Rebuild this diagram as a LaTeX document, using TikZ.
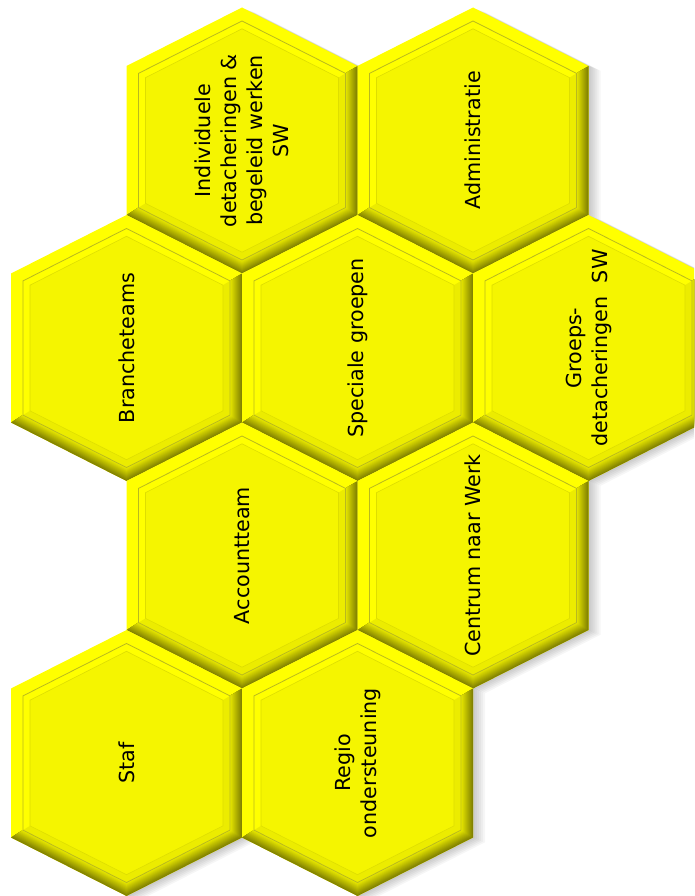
\documentclass[tikz,border=0pt]{standalone}
\usepackage{fontspec}
\setmainfont{DejaVu Sans}
\definecolor{ybright}{RGB}{255,255,0}
\definecolor{yface}{RGB}{245,245,0}
\definecolor{yinner}{RGB}{236,236,0}
\definecolor{yline}{RGB}{185,185,30}
\definecolor{yline2}{RGB}{222,222,0}
% hexagon inset by #1 (relative to centre)
\newcommand\hexpath[1]{(0,{133-1.121*(#1)}) -- ({115.5-(#1)},{74.5-0.6145*(#1)}) -- ({115.5-(#1)},{-74.5+0.6145*(#1)}) -- (0,{-133+1.121*(#1)}) -- ({-115.5+(#1)},{-74.5+0.6145*(#1)}) -- ({-115.5+(#1)},{74.5-0.6145*(#1)}) -- cycle}
% band along the lower/right edges between insets #1 and #2
\newcommand\lowband[2]{({115.5-(#1)},{74.5-0.6145*(#1)}) -- ({115.5-(#1)},{-74.5+0.6145*(#1)}) -- (0,{-133+1.121*(#1)}) -- ({-115.5+(#1)},{-74.5+0.6145*(#1)}) -- ({-115.5+(#2)},{-74.5+0.6145*(#2)}) -- (0,{-133+1.121*(#2)}) -- ({115.5-(#2)},{-74.5+0.6145*(#2)}) -- ({115.5-(#2)},{74.5-0.6145*(#2)}) -- cycle}
\newcommand\hexshadow[2]{%
  \foreach \k in {1,...,6}{%
    \begin{scope}[shift={({#1+\k*2},{#2-\k*0.8})}]
      \fill[black,opacity=0.035] \hexpath{0};
    \end{scope}}}
\newcommand\hexcell[4]{%
  \begin{scope}[shift={(#1,#2)}]
    \fill[ybright] \hexpath{0};
    \foreach \k in {0,...,11}{%
      \pgfmathtruncatemacro\cc{130+\k*9}%
      \definecolor{bandc}{RGB}{\cc,\cc,0}%
      \fill[bandc] \lowband{\k}{12.5};}
    \fill[ybright] \hexpath{12};
    \fill[yinner] \lowband{12}{19};
    \draw[yline,line width=0.8pt] \hexpath{12};
    \fill[yface] \hexpath{19};
    \draw[yline2,line width=0.6pt] \hexpath{19};
  \end{scope}
  \node[lbl] (#3) at (#1,#2) {#4};}
\tikzset{lbl/.style={rotate=90,align=center,text=black,inner sep=0pt,
  font=\fontsize{20.7}{26}\selectfont}}
\begin{document}
\begin{tikzpicture}[x=1pt,y=1pt]
\useasboundingbox (0,0) rectangle (694,-896);
\clip (0,0) rectangle (694,-896);
\fill[white] (0,0) rectangle (694,-896);
% shadows
\hexshadow{242}{-140.5}
\hexshadow{473}{-140.5}
\hexshadow{126.5}{-348}
\hexshadow{357.5}{-348}
\hexshadow{588.5}{-348}
\hexshadow{242}{-555.5}
\hexshadow{473}{-555.5}
\hexshadow{126.5}{-763}
\hexshadow{357.5}{-763}
% cells
\hexcell{242}{-140.5}{indiv}{Individuele\\detacheringen \&\\begeleid werken\\SW}
\hexcell{473}{-140.5}{admin}{Administratie}
\hexcell{126.5}{-348}{branche}{Brancheteams}
\hexcell{357.5}{-348}{speciaal}{Speciale groepen}
\hexcell{588.5}{-348}{groeps}{Groeps-\\detacheringen~~SW}
\hexcell{242}{-555.5}{account}{Accountteam}
\hexcell{473}{-555.5}{centrum}{Centrum naar Werk}
\hexcell{126.5}{-763}{staf}{Staf}
\hexcell{357.5}{-763}{regio}{Regio\\ondersteuning}
\end{tikzpicture}
\end{document}
